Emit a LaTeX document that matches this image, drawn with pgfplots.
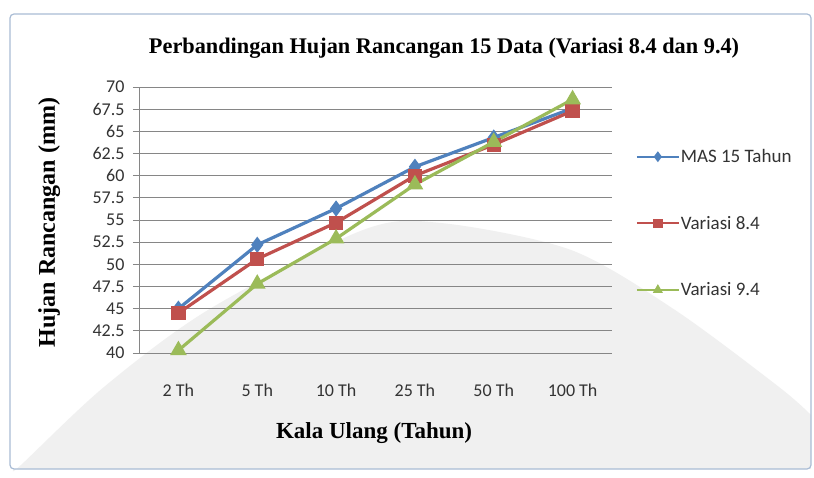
\documentclass[border=0pt]{standalone}
\usepackage{pgfplots}
\pgfplotsset{compat=1.18}
\usepackage{fontspec}
\setmainfont{Liberation Serif}
\newfontfamily\calfont{Carlito}
\definecolor{cblue}{HTML}{4F81BD}
\definecolor{cred}{HTML}{C0504D}
\definecolor{cgreen}{HTML}{9BBB59}
\definecolor{cgrid}{HTML}{868686}
\definecolor{cframe}{HTML}{A9BCD5}
\begin{document}
\begin{tikzpicture}[x=1pt,y=1pt]
\useasboundingbox (0,0) rectangle (814,477);
\fill[white] (0,0) rectangle (814,477);
\fill[black!6] plot[smooth] coordinates {(14,8) (21,12) (104,90) (208,167) (363,247) (441,254) (571,227) (675,167) (779,90) (811,62)} -- (811,8) -- cycle;
\draw[cframe, line width=1.2pt, rounded corners=4pt] (10,8) rectangle (811,463);
\begin{axis}[
  at={(139pt,124pt)}, anchor=south west,
  scale only axis, width=473pt, height=266pt,
  xmin=-0.5, xmax=5.5, ymin=40, ymax=70,
  xtick={0,1,2,3,4,5},
  xticklabels={2 Th,5 Th,10 Th,25 Th,50 Th,100 Th},
  ytick={40,42.5,45,47.5,50,52.5,55,57.5,60,62.5,65,67.5,70},
  /pgf/number format/assume math mode=true,
  /pgf/number format/fixed,
  ticklabel style={font=\calfont\fontsize{18}{20}\selectfont, text=black!80},
  xticklabel style={yshift=-21pt},
  yticklabel style={xshift=-5pt},
  axis y line*=left, axis x line*=bottom,
  axis line style={cgrid, line width=0.8pt, -},
  xtick style={draw=none},
  ytick style={cgrid, line width=0.8pt},
  tick align=outside, major tick length=6pt,
  ymajorgrids, major grid style={cgrid, line width=0.9pt},
  title={Perbandingan Hujan Rancangan 15 Data (Variasi 8.4 dan 9.4)},
  title style={font=\bfseries\fontsize{22.3}{26}\selectfont, at={(axis description cs:0.645,1.122)}, anchor=center},
  xlabel={Kala Ulang (Tahun)},
  xlabel style={font=\bfseries\fontsize{23}{26}\selectfont, at={(axis description cs:0.497,-0.30)}, anchor=center},
  ylabel={Hujan Rancangan (mm)},
  ylabel style={font=\bfseries\fontsize{24}{26}\selectfont, at={(axis description cs:-0.19,0.49)}, anchor=center},
  legend style={at={(axis description cs:1.050,0.77)}, anchor=north west, draw=none, fill=none,
    font=\calfont\fontsize{19}{21}\selectfont, row sep=50pt, inner sep=0pt,
    nodes={inner sep=1pt, text=black!80}},
  legend cell align=left,
  legend image code/.code={\draw[mark repeat=2,mark phase=2,#1,line width=2pt,mark size=3.8pt] plot coordinates {(0pt,0pt)(21pt,0pt)(42pt,0pt)};},
  clip=false,
]
\addplot[cblue, line width=3.2pt, mark=diamond*, mark size=5.5pt] coordinates {(0,45.0) (1,52.2) (2,56.3) (3,61.0) (4,64.3) (5,67.6)};
\addlegendentry{MAS 15 Tahun}
\addplot[cred, line width=3.2pt, mark=square*, mark size=5.5pt] coordinates {(0,44.5) (1,50.6) (2,54.7) (3,60.0) (4,63.5) (5,67.3)};
\addlegendentry{Variasi 8.4}
\addplot[cgreen, line width=3.2pt, mark=triangle*, mark size=6.5pt] coordinates {(0,40.3) (1,47.8) (2,52.9) (3,59.0) (4,63.8) (5,68.6)};
\addlegendentry{Variasi 9.4}
\end{axis}
\end{tikzpicture}
\end{document}
